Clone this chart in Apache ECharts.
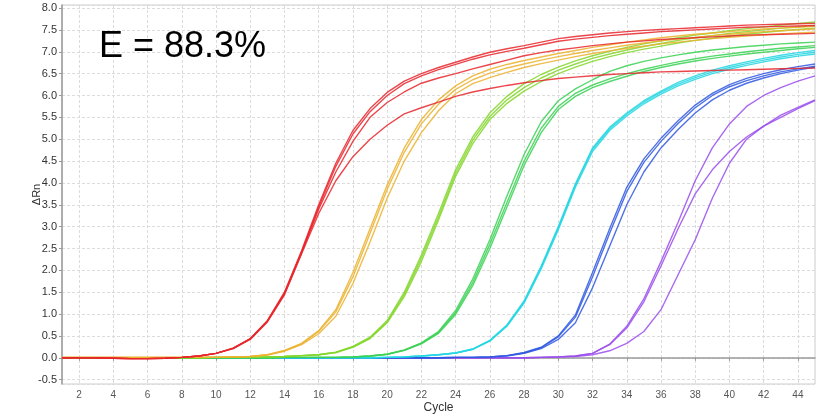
<!DOCTYPE html>
<html>
<head>
<meta charset="utf-8">
<script src="https://cdn.jsdelivr.net/npm/echarts@6/dist/echarts.min.js"></script>
<style>
html,body{margin:0;padding:0;background:#fff;}
#chart{width:817px;height:418px;}
</style>
</head>
<body>
<div id="chart"></div>
<script>
// Cycle categories
const cycles = [1,2,3,4,5,6,7,8,9,10,11,12,13,14,15,16,17,18,19,20,21,22,23,24,25,26,27,28,29,30,31,32,33,34,35,36,37,38,39,40,41,42,43,44,45];
const xTickLabels = ['2','4','6','8','10','12','14','16','18','20','22','24','26','28','30','32','34','36','38','40','42','44'];
const yTickLabels = ['-0.5','0.0','0.5','1.0','1.5','2.0','2.5','3.0','3.5','4.0','4.5','5.0','5.5','6.0','6.5','7.0','7.5','8.0'];
const annotation = 'E = 88.3%';

// ΔRn values, cycles 1..45
const red1 = [0.00,0.00,0.00,-0.01,-0.02,-0.02,-0.01,0.01,0.04,0.10,0.22,0.44,0.85,1.50,2.45,3.50,4.45,5.20,5.70,6.07,6.33,6.50,6.64,6.76,6.88,6.99,7.07,7.14,7.22,7.30,7.35,7.39,7.43,7.46,7.49,7.51,7.53,7.55,7.57,7.59,7.61,7.62,7.63,7.64,7.65];
const red2 = [0.00,0.00,0.00,-0.01,-0.02,-0.02,-0.01,0.01,0.04,0.10,0.22,0.43,0.84,1.48,2.42,3.45,4.38,5.12,5.63,6.00,6.27,6.45,6.59,6.71,6.83,6.93,7.01,7.08,7.16,7.24,7.29,7.33,7.37,7.40,7.43,7.46,7.48,7.50,7.52,7.54,7.56,7.57,7.58,7.59,7.60];
const red3 = [0.00,0.00,0.00,-0.01,-0.02,-0.02,-0.01,0.01,0.04,0.10,0.21,0.43,0.83,1.46,2.40,3.40,4.25,4.95,5.50,5.84,6.08,6.28,6.40,6.50,6.61,6.71,6.81,6.91,6.98,7.04,7.09,7.14,7.18,7.22,7.25,7.28,7.30,7.32,7.34,7.36,7.38,7.39,7.40,7.41,7.42];
const red4 = [0.00,0.00,0.00,-0.01,-0.02,-0.02,-0.01,0.01,0.04,0.10,0.21,0.42,0.82,1.44,2.38,3.30,4.05,4.60,5.00,5.32,5.58,5.72,5.85,5.98,6.08,6.16,6.23,6.29,6.34,6.39,6.42,6.45,6.48,6.50,6.52,6.54,6.55,6.56,6.57,6.58,6.59,6.60,6.61,6.62,6.63];

const orange1 = [0.01,0.01,0.01,0.01,0.01,0.01,0.01,0.01,0.01,0.01,0.02,0.03,0.07,0.17,0.33,0.62,1.10,1.95,2.95,3.95,4.80,5.45,5.90,6.22,6.45,6.60,6.71,6.80,6.88,6.96,7.03,7.10,7.16,7.22,7.27,7.32,7.36,7.40,7.43,7.46,7.49,7.52,7.54,7.56,7.58];
const orange2 = [0.01,0.01,0.01,0.01,0.01,0.01,0.01,0.01,0.01,0.01,0.02,0.03,0.07,0.16,0.32,0.60,1.05,1.85,2.85,3.85,4.70,5.35,5.80,6.14,6.36,6.51,6.63,6.72,6.81,6.89,6.96,7.03,7.09,7.15,7.20,7.25,7.29,7.33,7.37,7.40,7.43,7.46,7.48,7.50,7.52];
const orange3 = [0.01,0.01,0.01,0.01,0.01,0.01,0.01,0.01,0.01,0.01,0.02,0.03,0.06,0.15,0.30,0.55,0.95,1.70,2.65,3.65,4.50,5.15,5.65,6.04,6.27,6.41,6.53,6.64,6.73,6.81,6.89,6.96,7.02,7.08,7.13,7.18,7.22,7.26,7.30,7.33,7.36,7.39,7.41,7.43,7.45];

const lime1 = [0.00,0.00,0.00,0.00,0.00,0.00,0.00,0.00,0.00,0.01,0.01,0.01,0.02,0.03,0.05,0.07,0.13,0.26,0.47,0.85,1.50,2.35,3.30,4.30,5.05,5.60,5.98,6.27,6.48,6.65,6.79,6.91,7.01,7.10,7.18,7.25,7.32,7.38,7.43,7.48,7.53,7.57,7.61,7.65,7.68];
const lime2 = [0.00,0.00,0.00,0.00,0.00,0.00,0.00,0.00,0.00,0.01,0.01,0.01,0.02,0.03,0.05,0.07,0.12,0.25,0.45,0.82,1.45,2.28,3.22,4.22,4.98,5.52,5.90,6.18,6.40,6.58,6.72,6.85,6.95,7.04,7.12,7.19,7.26,7.32,7.37,7.42,7.46,7.50,7.54,7.57,7.60];
const lime3 = [0.00,0.00,0.00,0.00,0.00,0.00,0.00,0.00,0.00,0.01,0.01,0.01,0.02,0.03,0.05,0.07,0.12,0.24,0.44,0.80,1.40,2.20,3.15,4.15,4.90,5.45,5.82,6.10,6.32,6.50,6.65,6.78,6.89,6.98,7.06,7.13,7.20,7.26,7.31,7.36,7.40,7.44,7.48,7.51,7.54];

const green1 = [0.00,0.00,0.00,0.00,0.00,0.00,0.00,0.00,0.00,0.00,0.00,0.00,0.00,0.01,0.01,0.01,0.01,0.02,0.04,0.08,0.18,0.34,0.60,1.08,1.80,2.70,3.70,4.65,5.40,5.88,6.15,6.36,6.55,6.68,6.78,6.86,6.93,6.99,7.04,7.08,7.12,7.15,7.18,7.20,7.22];
const green2 = [0.00,0.00,0.00,0.00,0.00,0.00,0.00,0.00,0.00,0.00,0.00,0.00,0.00,0.01,0.01,0.01,0.01,0.02,0.04,0.08,0.17,0.33,0.58,1.03,1.72,2.60,3.55,4.50,5.25,5.75,6.05,6.24,6.38,6.50,6.60,6.69,6.77,6.84,6.90,6.95,7.00,7.04,7.08,7.11,7.14];
const green3 = [0.00,0.00,0.00,0.00,0.00,0.00,0.00,0.00,0.00,0.00,0.00,0.00,0.00,0.01,0.01,0.01,0.01,0.02,0.04,0.08,0.17,0.32,0.56,0.99,1.65,2.50,3.45,4.40,5.15,5.68,5.98,6.18,6.32,6.44,6.55,6.64,6.72,6.79,6.85,6.90,6.95,6.99,7.03,7.07,7.10];

const cyan1 = [0.00,0.00,0.00,0.00,0.00,0.00,0.00,0.00,0.00,0.00,0.00,0.00,0.00,0.00,0.00,0.00,0.00,0.00,0.00,0.01,0.02,0.04,0.07,0.11,0.20,0.40,0.75,1.30,2.10,3.00,3.98,4.80,5.27,5.60,5.88,6.10,6.30,6.45,6.58,6.68,6.77,6.85,6.92,6.98,7.03];
const cyan2 = [0.00,0.00,0.00,0.00,0.00,0.00,0.00,0.00,0.00,0.00,0.00,0.00,0.00,0.00,0.00,0.00,0.00,0.00,0.00,0.01,0.02,0.04,0.07,0.11,0.20,0.39,0.74,1.28,2.07,2.97,3.95,4.77,5.24,5.57,5.85,6.07,6.26,6.41,6.54,6.64,6.73,6.81,6.88,6.94,6.99];
const cyan3 = [0.00,0.00,0.00,0.00,0.00,0.00,0.00,0.00,0.00,0.00,0.00,0.00,0.00,0.00,0.00,0.00,0.00,0.00,0.00,0.01,0.02,0.04,0.07,0.11,0.19,0.38,0.72,1.25,2.03,2.93,3.90,4.72,5.20,5.53,5.81,6.03,6.22,6.37,6.50,6.60,6.69,6.77,6.84,6.90,6.95];

const blue1 = [0.00,0.00,0.00,0.00,0.00,0.00,0.00,0.00,0.00,0.00,0.00,0.00,0.00,0.00,0.00,0.00,0.00,0.00,0.00,0.00,0.00,0.00,0.00,0.01,0.01,0.02,0.05,0.12,0.24,0.50,0.98,1.95,2.95,3.90,4.55,5.02,5.42,5.78,6.05,6.25,6.39,6.50,6.59,6.66,6.72];
const blue2 = [0.00,0.00,0.00,0.00,0.00,0.00,0.00,0.00,0.00,0.00,0.00,0.00,0.00,0.00,0.00,0.00,0.00,0.00,0.00,0.00,0.00,0.00,0.00,0.01,0.01,0.02,0.05,0.11,0.23,0.48,0.93,1.85,2.85,3.80,4.47,4.95,5.36,5.72,6.00,6.20,6.34,6.45,6.54,6.61,6.67];
const blue3 = [0.00,0.00,0.00,0.00,0.00,0.00,0.00,0.00,0.00,0.00,0.00,0.00,0.00,0.00,0.00,0.00,0.00,0.00,0.00,0.00,0.00,0.00,0.00,0.01,0.01,0.02,0.04,0.10,0.21,0.42,0.80,1.60,2.55,3.50,4.25,4.80,5.22,5.60,5.90,6.12,6.28,6.40,6.50,6.58,6.65];

const purple1 = [0.00,0.00,0.00,0.00,0.00,0.00,0.00,0.00,0.00,0.00,0.00,0.00,0.00,0.00,0.00,0.00,0.00,0.00,0.00,0.00,0.00,0.00,0.00,0.00,0.00,0.00,0.00,0.00,0.01,0.02,0.04,0.10,0.31,0.72,1.35,2.20,3.10,4.05,4.80,5.35,5.75,6.00,6.18,6.33,6.45];
const purple2 = [0.00,0.00,0.00,0.00,0.00,0.00,0.00,0.00,0.00,0.00,0.00,0.00,0.00,0.00,0.00,0.00,0.00,0.00,0.00,0.00,0.00,0.00,0.00,0.00,0.00,0.00,0.00,0.00,0.01,0.02,0.04,0.10,0.30,0.68,1.28,2.10,2.95,3.75,4.30,4.72,5.05,5.30,5.50,5.70,5.88];
const purple3 = [0.00,0.00,0.00,0.00,0.00,0.00,0.00,0.00,0.00,0.00,0.00,0.00,0.00,0.00,0.00,0.00,0.00,0.00,0.00,0.00,0.00,0.00,0.00,0.00,0.00,0.00,0.00,0.00,0.01,0.02,0.03,0.07,0.16,0.33,0.60,1.10,1.90,2.70,3.65,4.45,5.00,5.30,5.55,5.73,5.90];

const groups = [
  {color:'#9a4dec', data:[purple1,purple2,purple3]},
  {color:'#2f58e0', data:[blue1,blue2,blue3]},
  {color:'#22d6e2', data:[cyan1,cyan2,cyan3]},
  {color:'#3ad152', data:[green1,green2,green3]},
  {color:'#82d62a', data:[lime1,lime2,lime3]},
  {color:'#ebb22e', data:[orange1,orange2,orange3]},
  {color:'#e8262c', data:[red1,red2,red3,red4]}
];

const series = [];
groups.forEach(g => g.data.forEach(d => series.push({
  type:'line', data:d, showSymbol:false, symbol:'none', silent:true,
  lineStyle:{color:g.color, width:1.4, opacity:0.85},
  itemStyle:{color:g.color}
})));

const chart = echarts.init(document.getElementById('chart'), null, {renderer:'canvas'});
const isEven = (i, v) => Number(v) % 2 === 0;
chart.setOption({
  animation:false,
  backgroundColor:'#ffffff',
  grid:{left:62, right:2, top:5, bottom:34, outerBoundsMode:'none', containLabel:false,
    show:true, borderColor:'#cccccc', borderWidth:1, backgroundColor:'#ffffff'},
  graphic:[{type:'text', left:99, top:29, z:100,
    style:{text:annotation, font:'36px "Liberation Sans", Arial, sans-serif', fill:'#000'}}],
  xAxis:{
    type:'category', data:cycles.map(String), boundaryGap:false,
    name:'Cycle', nameLocation:'middle', nameGap:18, nameMoveOverlap:false,
    nameTextStyle:{fontSize:12, color:'#333', fontFamily:'"Liberation Sans", Arial, sans-serif', verticalAlign:'top'},
    axisLine:{lineStyle:{color:'#9a9a9a', width:1.5}},
    axisTick:{show:true, length:3, interval:isEven, lineStyle:{color:'#9a9a9a'}},
    axisLabel:{interval:isEven, fontSize:10, color:'#555', margin:6,
      formatter:v => xTickLabels.indexOf(v) >= 0 ? v : ''},
    splitLine:{show:true, interval:isEven, lineStyle:{color:'#dcdcdc', type:[3,2]}}
  },
  yAxis:{
    type:'value', min:-0.6, max:8.07, splitNumber:17,
    name:'ΔRn', nameLocation:'middle', nameGap:20, nameRotate:90, nameMoveOverlap:false,
    nameTextStyle:{fontSize:11, color:'#333', fontFamily:'"Liberation Sans", Arial, sans-serif'},
    axisLine:{show:true, lineStyle:{color:'#9a9a9a', width:1.5}},
    axisTick:{show:true, length:3, lineStyle:{color:'#9a9a9a'}},
    axisLabel:{fontSize:11, color:'#333', margin:5, showMinLabel:false, showMaxLabel:false,
      fontFamily:'"Liberation Sans", Arial, sans-serif',
      formatter:v => { const s = (Math.round(v*10)/10).toFixed(1); return yTickLabels.indexOf(s) >= 0 && Math.abs(v*2 - Math.round(v*2)) < 1e-6 ? s : ''; }},
    splitLine:{show:true, lineStyle:{color:'#dcdcdc', type:[3,2]}}
  },
  series:series
});
</script>
</body>
</html>
